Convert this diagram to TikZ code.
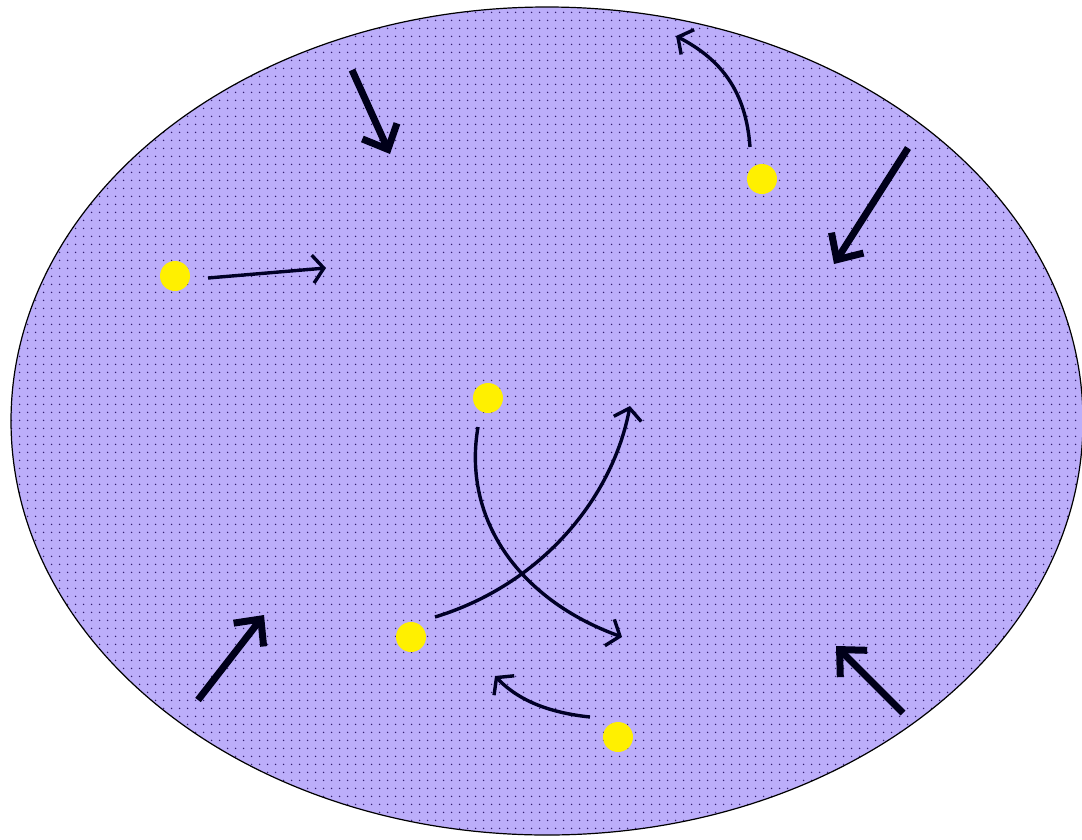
\documentclass[tikz,border=0pt]{standalone}
\usetikzlibrary{arrows.meta,patterns}
\definecolor{lav}{RGB}{188,174,250}
\definecolor{dotc}{RGB}{50,30,110}
\definecolor{sun}{RGB}{255,240,0}
\pgfdeclarepatternformonly{pdots}{\pgfpoint{0pt}{0pt}}{\pgfpoint{8pt}{8pt}}{\pgfpoint{8pt}{8pt}}{\pgfpathcircle{\pgfpoint{4pt}{4pt}}{0.9pt}\pgfusepath{fill}}
\tikzset{
  particle/.style={circle,fill=sun,draw=none,minimum size=30pt,inner sep=0pt},
  thickarrow/.style={line width=7pt,draw=black!90!blue,-{Straight Barb[length=20pt,width=38pt,line width=7pt]}},
  thinarrow/.style={line width=3.4pt,draw=black!85!blue,-{Straight Barb[length=11pt,width=28pt,line width=3.4pt]}}
}
\begin{document}
\begin{tikzpicture}[x=1pt,y=-1pt]
\useasboundingbox (0,0) rectangle (1082,839);
\fill[white] (0,0) rectangle (1082,839);
\fill[lav] (547,421) ellipse [x radius=536, y radius=414];
\fill[pattern=pdots,pattern color=dotc] (547,421) ellipse [x radius=536, y radius=414];
\draw[line width=1.2pt,black] (547,421) ellipse [x radius=536, y radius=414];
% particles
\node[particle] (p1) at (175,276) {};
\node[particle] (p2) at (762,179) {};
\node[particle] (p3) at (488,398) {};
\node[particle] (p4) at (411,637) {};
\node[particle] (p5) at (618,737) {};
% coordinates for arrow ends
\coordinate (a1s) at (352,70);  \coordinate (a1e) at (390,154);
\coordinate (a2s) at (908,148); \coordinate (a2e) at (834,264);
\coordinate (a3s) at (198,700); \coordinate (a3e) at (264,615);
\coordinate (a4s) at (903,713); \coordinate (a4e) at (836,646);
\coordinate (b1s) at (208,278); \coordinate (b1e) at (326,268);
\coordinate (b2s) at (750,147); \coordinate (b2e) at (676,36);
\coordinate (b3s) at (478,427); \coordinate (b3e) at (622,637);
\coordinate (b4s) at (435,617); \coordinate (b4e) at (630,406);
\coordinate (b5s) at (590,717); \coordinate (b5e) at (495,676);
% thick arrows
\draw[thickarrow] (a1s) -- (a1e);
\draw[thickarrow] (a2s) -- (a2e);
\draw[thickarrow] (a3s) -- (a3e);
\draw[thickarrow] (a4s) -- (a4e);
% thin arrows
\draw[thinarrow] (b1s) -- (b1e);
\draw[thinarrow] (b2s) .. controls (746,92) and (722,60) .. (b2e);
\draw[thinarrow] (b3s) .. controls (462,520) and (520,600) .. (b3e);
\draw[thinarrow] (b4s) .. controls (540,585) and (612,500) .. (b4e);
\draw[thinarrow] (b5s) .. controls (552,713) and (520,702) .. (b5e);
\end{tikzpicture}
\end{document}
